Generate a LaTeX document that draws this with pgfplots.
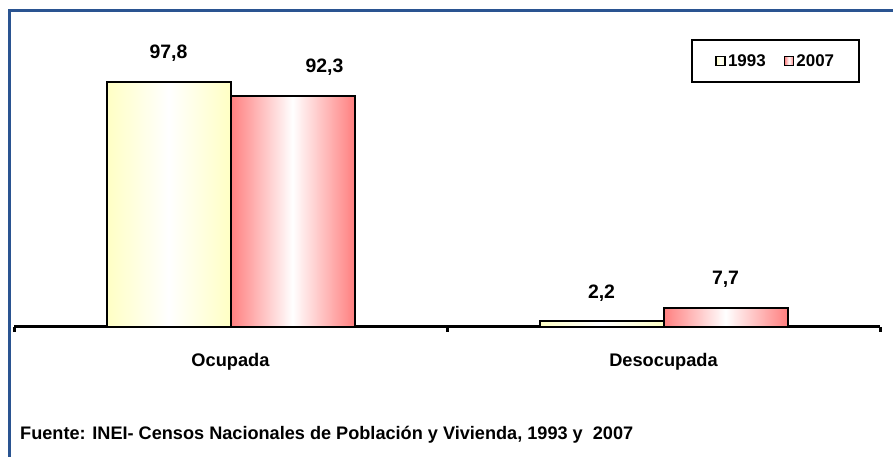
\documentclass[border=0pt]{standalone}
\usepackage{fontspec}
\setmainfont{Liberation Sans}
\usepackage{pgfplots}
\pgfplotsset{compat=1.18}

\definecolor{frameblue}{HTML}{2A5491}
\definecolor{barred}{HTML}{FF7F7F}
\definecolor{baryel}{HTML}{FFFFC4}

\begin{document}
\begin{tikzpicture}[x=1bp,y=1bp]
\useasboundingbox (0,0) rectangle (893,457);
% frame (top and left edge visible)
\draw[frameblue, line width=3bp] (9.7,0) -- (9.7,446.5) -- (893,446.5);

\begin{axis}[
    at={(14bp,130bp)}, anchor=south west,
    scale only axis,
    width=866bp, height=300.6bp,
    xmin=-0.5, xmax=1.5,
    ymin=0, ymax=120,
    axis y line=none,
    axis x line*=bottom,
    x axis line style={line width=3bp, -},
    xtick={0,1},
    xticklabels={Ocupada,Desocupada},
    tick style={black, line width=3bp},
    major tick length=0bp,
    extra x ticks={-0.5,0.5,1.5},
    extra x tick labels={},
    extra x tick style={major tick length=5bp, tick align=outside},
    xticklabel style={font=\fontsize{18.3}{18}\selectfont\bfseries, inner sep=0pt, anchor=north, yshift=-26bp},
    ybar=0pt,
    bar width=124bp,
    nodes near coords,
    /pgf/number format/.cd, fixed, fixed zerofill, precision=1, use comma, assume math mode=true,
    /pgfplots/.cd,
    every node near coord/.append style={font=\fontsize{19.5}{19}\selectfont\bfseries, inner sep=0pt, anchor=south, yshift=19bp, black},
    legend columns=2,
    legend style={at={(0.782,0.957)}, anchor=north west, draw=black, line width=2bp,
        font=\fontsize{17}{17}\selectfont\bfseries, inner xsep=23bp, inner ysep=12bp,
        /tikz/every even column/.append style={column sep=16bp}},
    legend image code/.code={\draw[#1, line width=1.8bp] (0bp,-4.5bp) rectangle (9bp,4.5bp);},
]
% 1993
\addplot[draw=black, line width=2bp, left color=baryel, right color=baryel, middle color=white,
    bar shift=-62bp]
    coordinates {(0,97.8)};
\addlegendentry{1993}
% 2007
\addplot[draw=black, line width=2bp, left color=barred, right color=barred, middle color=white,
    bar shift=62bp, every node near coord/.append style={xshift=32bp}]
    coordinates {(0,92.3)};
\addlegendentry{2007}
\addplot[draw=black, line width=2bp, left color=baryel, right color=baryel, middle color=white,
    bar shift=-62bp, forget plot]
    coordinates {(1,2.2)};
\addplot[draw=black, line width=2bp, left color=barred, right color=barred, middle color=white,
    bar shift=62bp, forget plot]
    coordinates {(1,7.7)};
\end{axis}

\node[anchor=west, inner sep=0pt, font=\fontsize{18.2}{18}\selectfont\bfseries] at (20,22)
    {Fuente: INEI- Censos Nacionales de Población y Vivienda, 1993 y\ \ 2007};
\end{tikzpicture}
\end{document}
